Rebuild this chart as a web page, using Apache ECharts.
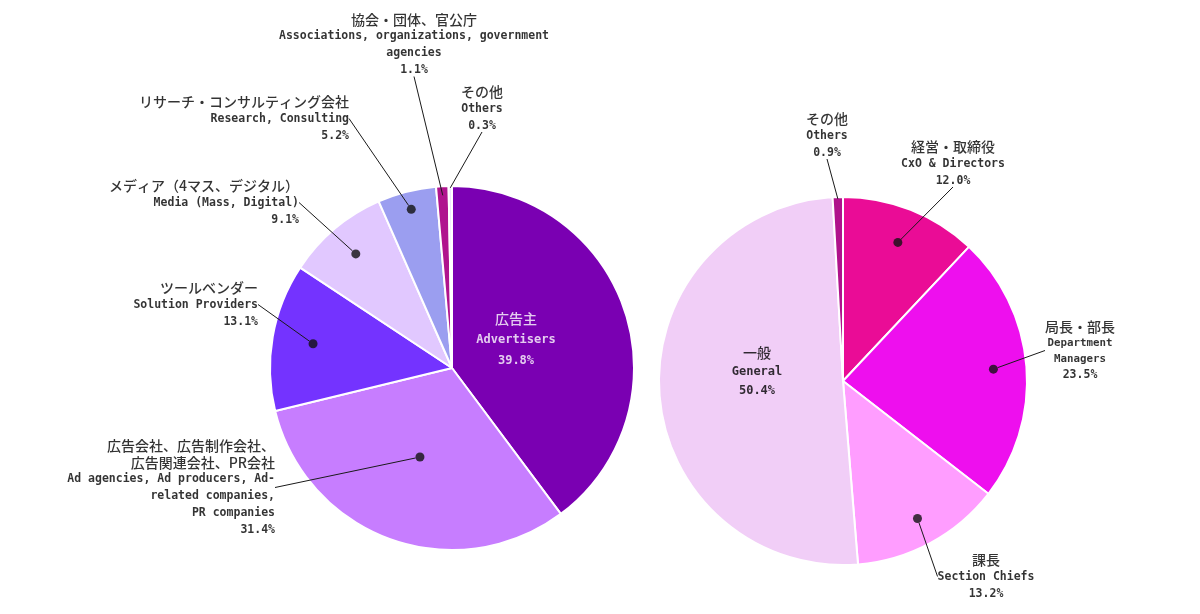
<!DOCTYPE html>
<html><head><meta charset="utf-8">
<script src="https://cdn.jsdelivr.net/npm/echarts@6/dist/echarts.min.js"></script>
<style>html,body{margin:0;padding:0;background:#fff}#c{width:1200px;height:614px}</style>
</head><body><div id="c"></div>
<script>
// ---- data ----
const leftJa = ['広告主', '広告会社、広告制作会社、\n広告関連会社、PR会社', 'ツールベンダー', 'メディア（4マス、デジタル）', 'リサーチ・コンサルティング会社', '協会・団体、官公庁', 'その他'];
const leftEn = ['Advertisers', 'Ad agencies, Ad producers, Ad-\nrelated companies,\nPR companies', 'Solution Providers', 'Media (Mass, Digital)', 'Research, Consulting', 'Associations, organizations, government\nagencies', 'Others'];
const leftValues = [39.8, 31.4, 13.1, 9.1, 5.2, 1.1, 0.3];

const rightJa = ['経営・取締役', '局長・部長', '課長', '一般', 'その他'];
const rightEn = ['CxO & Directors', 'Department\nManagers', 'Section Chiefs', 'General', 'Others'];
const rightValues = [12.0, 23.5, 13.2, 50.4, 0.9];

// ---- styles / layout ----
const leftColors = ['#7A00B2', '#C77DFF', '#7433FF', '#E1C8FF', '#9B9EF0', '#B0148E', '#EFE4FF'];
const rightColors = ['#EA0C96', '#EE0FEE', '#FF9DFF', '#F1CEF7', '#B0128C'];
const leftDotR = [0.42, 0.52, 0.775, 0.82, 0.9, 0.95, 0.99];
const leftDotShow = [false, true, true, true, true, false, false];
const leftInner = 0, leftInnerDark = false;
const leftLabelPos = [[516, 340, 'center'], [281, 488, 'right'], [264, 305, 'right'], [305, 203, 'right'], [355, 119, 'right'], [414, 45, 'center'], [482, 109, 'center']];
const rightDotR = [0.81, 0.82, 0.85, 0.47, 0.99];
const rightDotShow = [true, true, true, false, false];
const rightInner = 3, rightInnerDark = true;
const rightLabelPos = [[953, 164, 'center'], [1080, 351, 'center'], [986, 577, 'center'], [757, 372, 'center'], [827, 136, 'center']];
const leftCenter = [452, 368], leftRadius = 182;
const rightCenter = [843, 381], rightRadius = 184;

const JA_FONT = '"Noto Sans CJK JP", sans-serif';
const EN_FONT = '"DejaVu Sans Mono", monospace';

function midAngles(vals) {
  const tot = vals.reduce((a, b) => a + b, 0);
  let c = 0;
  return vals.map(v => { const m = (c + v / 2) / tot * 100; c += v; return m; });
}

function labelText(ja, en, v, inner, dark, small) {
  const js = inner ? (dark ? 'jd' : 'ji') : 'j';
  const es = inner ? (dark ? 'ed' : 'ei') : (small ? 'es' : 'e');
  const ps = inner ? (dark ? 'ed' : 'ei') : 'e';
  const parts = [];
  ja.split('\n').forEach(s => parts.push('{' + js + '|' + s + '}'));
  en.split('\n').forEach(s => parts.push('{' + es + '|' + s + '}'));
  parts.push('{' + ps + '|' + v.toFixed(1) + '%}');
  return parts.join('\n');
}

const rich = {
  j: { fontFamily: JA_FONT, fontSize: 14, fontWeight: 500, lineHeight: 17, color: '#000' },
  e: { fontFamily: EN_FONT, fontSize: 11.5, fontWeight: 'bold', lineHeight: 17, color: '#000' },
  es: { fontFamily: EN_FONT, fontSize: 10.8, fontWeight: 'bold', lineHeight: 15.5, color: '#000' },
  ji: { fontFamily: JA_FONT, fontSize: 14, fontWeight: 500, lineHeight: 21, color: '#fff' },
  ei: { fontFamily: EN_FONT, fontSize: 12, fontWeight: 'bold', lineHeight: 21, color: '#fff' },
  jd: { fontFamily: JA_FONT, fontSize: 14, fontWeight: 500, lineHeight: 19, color: '#000' },
  ed: { fontFamily: EN_FONT, fontSize: 12, fontWeight: 'bold', lineHeight: 19, color: '#000' }
};

function pieSeries(values, names, colors, center, radius) {
  return {
    type: 'pie', center: center, radius: [0, radius], startAngle: 90, clockwise: true,
    silent: true, animation: false, avoidLabelOverlap: false,
    label: { show: false }, labelLine: { show: false },
    itemStyle: { borderColor: '#fff', borderWidth: 2 },
    data: values.map((v, i) => ({ value: v, name: names[i], itemStyle: { color: colors[i] } }))
  };
}

function scatterSeries(polarIndex, values, ja, en, dotR, dotShow, inner, innerDark, pos, smallIdx) {
  const mids = midAngles(values);
  return {
    type: 'scatter', coordinateSystem: 'polar', polarIndex: polarIndex,
    silent: true, animation: false, z: 10,
    symbol: 'circle',
    itemStyle: { color: '#111' },
    label: { show: true, rich: rich },
    labelLine: { show: true, length2: 0, lineStyle: { color: '#1a1a1a', width: 1 } },
    labelLayout: function (p) {
      const q = pos[p.dataIndex];
      return { x: q[0], y: q[1], align: q[2], verticalAlign: 'middle' };
    },
    data: values.map((v, i) => ({
      value: [dotR[i], mids[i]],
      symbolSize: dotShow[i] ? 9 : 0.01,
      label: {
        show: true, align: pos[i][2], verticalAlign: 'middle',
        padding: i === inner ? 0 : 6,
        formatter: labelText(ja[i], en[i], v, i === inner, innerDark, i === smallIdx)
      },
      labelLine: { show: i !== inner }
    }))
  };
}

const chart = echarts.init(document.getElementById('c'), null, { renderer: 'canvas' });
chart.setOption({
  animation: false,
  backgroundColor: '#fff',
  polar: [
    { center: leftCenter, radius: [0, leftRadius] },
    { center: rightCenter, radius: [0, rightRadius] }
  ],
  angleAxis: [
    { polarIndex: 0, type: 'value', min: 0, max: 100, startAngle: 90, clockwise: true, show: false },
    { polarIndex: 1, type: 'value', min: 0, max: 100, startAngle: 90, clockwise: true, show: false }
  ],
  radiusAxis: [
    { polarIndex: 0, type: 'value', min: 0, max: 1, show: false },
    { polarIndex: 1, type: 'value', min: 0, max: 1, show: false }
  ],
  series: [
    pieSeries(leftValues, leftEn, leftColors, leftCenter, leftRadius),
    pieSeries(rightValues, rightEn, rightColors, rightCenter, rightRadius),
    scatterSeries(0, leftValues, leftJa, leftEn, leftDotR, leftDotShow, leftInner, leftInnerDark, leftLabelPos, -1),
    scatterSeries(1, rightValues, rightJa, rightEn, rightDotR, rightDotShow, rightInner, rightInnerDark, rightLabelPos, 1)
  ]
});
</script>
</body></html>
